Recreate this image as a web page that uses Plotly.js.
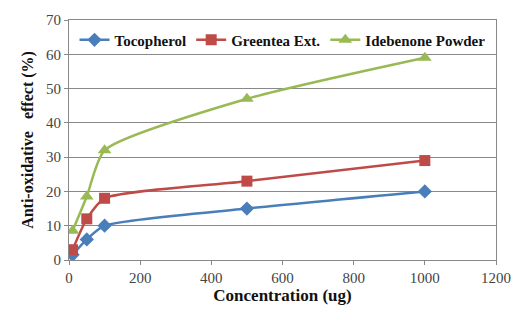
<!DOCTYPE html>
<html><head><meta charset="utf-8">
<script src="https://cdn.plot.ly/plotly-3.0.1.min.js"></script>
</head><body style="margin:0">
<div id="c"></div>
<script>
var conc = [10, 50, 100, 500, 1000];
var tocopherol = [1.5, 6, 10, 15, 20];
var greentea = [3, 12, 18, 23, 29];
var idebenone = [8.5, 18.5, 32, 47, 59];
var names = ['Tocopherol', 'Greentea Ext.', 'Idebenone Powder'];
var xTicks = [0, 200, 400, 600, 800, 1000, 1200];
var yTicks = [0, 10, 20, 30, 40, 50, 60, 70];

function tr(y, name, color, sym, size) {
  return {x: conc, y: y, name: '<b>' + name + '</b>', type: 'scatter', mode: 'lines+markers',
    line: {color: color, width: 2.5, shape: 'spline', smoothing: 0.6},
    marker: {color: color, symbol: sym, size: size}};
}
var data = [
  tr(tocopherol, names[0], '#4a7ebb', 'diamond', 11),
  tr(greentea, names[1], '#be4b48', 'square', 11),
  tr(idebenone, names[2], '#98b954', 'triangle-up', 12)
];
var layout = {
  width: 513, height: 310,
  margin: {l: 69, r: 17, t: 20, b: 50},
  font: {family: 'Times New Roman'},
  showlegend: true,
  legend: {orientation: 'h', x: 0.5, xanchor: 'center', y: 0.985, yanchor: 'top',
    bgcolor: 'rgba(0,0,0,0)', font: {size: 15, color: '#111'}},
  xaxis: {range: [0, 1200], tickvals: xTicks, ticktext: xTicks.map(String),
    showgrid: false, zeroline: false, showline: true, linecolor: '#888', mirror: true,
    ticks: 'outside', ticklen: 4, tickcolor: '#888',
    tickfont: {size: 15, color: '#444'},
    title: {text: '<b>Concentration (ug)</b>', font: {size: 17, color: '#111'}, standoff: 4}},
  yaxis: {range: [0, 70], tickvals: yTicks, ticktext: yTicks.map(String),
    showgrid: true, gridcolor: '#888', gridwidth: 1, zeroline: false,
    showline: true, linecolor: '#888', mirror: true,
    ticks: 'outside', ticklen: 4, tickcolor: '#888',
    tickfont: {size: 15, color: '#444'},
    title: {text: '<b>Anti-oxidative\u00a0\u00a0\u00a0effect (%)</b>', font: {size: 16, color: '#111'}, standoff: 8}}
};
Plotly.newPlot('c', data, layout, {displayModeBar: false, staticPlot: true});
</script></body></html>
